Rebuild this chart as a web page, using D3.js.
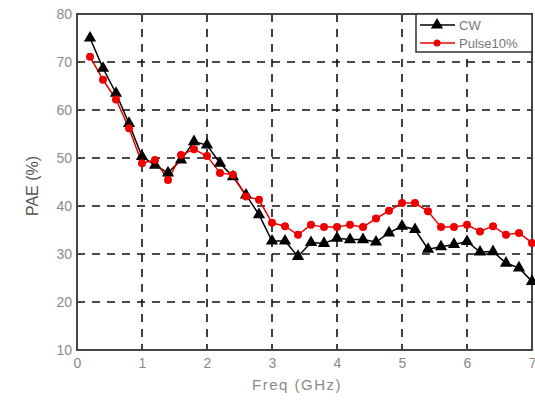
<!DOCTYPE html>
<html><head><meta charset="utf-8">
<script src="https://cdn.jsdelivr.net/npm/d3@7"></script>
<style>body{margin:0;background:#fff}svg{display:block}</style>
</head><body>
<svg id="c" width="535" height="403"></svg>
<script>
const freq = [0.2,0.4,0.6,0.8,1.0,1.2,1.4,1.6,1.8,2.0,2.2,2.4,2.6,2.8,3.0,3.2,3.4,3.6,3.8,4.0,4.2,4.4,4.6,4.8,5.0,5.2,5.4,5.6,5.8,6.0,6.2,6.4,6.6,6.8,7.0];
const cw = [75,68.7,63.5,57.2,50.3, 48.5,46.9,49.6,53.4,52.7, 48.9,46.1,42.3,38.2,32.7, 32.7,29.5,32.4,32.2,33.3, 33,33,32.5,34.4,35.8, 35.1,31,31.5,32,32.6, 30.4,30.5,28.1,27.1,24.3];
const pulse = [71.1,66.3,62.2,56.2,48.9, 49.6,45.4,50.6,51.8,50.4, 46.9,46.5,42,41.3,36.5, 35.8,34,36.1,35.6,35.6, 36.1,35.6,37.4,39,40.6, 40.6,38.9,35.6,35.6,36.1, 34.7,35.8,34,34.4,32.3];
const xTicks = [0,1,2,3,4,5,6,7];
const yTicks = [10,20,30,40,50,60,70,80];
const seriesNames = ["CW","Pulse10%"];

const svg = d3.select("#c");
const L=77, R=532, T=14, B=350;
const x = d3.scaleLinear().domain([0,7]).range([L,R]);
const y = d3.scaleLinear().domain([10,80]).range([B,T]);
const font = "Liberation Sans, Arial, sans-serif";

// grid
const g = svg.append("g");
g.selectAll(".vg").data(xTicks.slice(1,-1)).join("line")
  .attr("x1",d=>x(d)).attr("x2",d=>x(d)).attr("y1",T).attr("y2",B)
  .attr("stroke","#111").attr("stroke-width",1.6).attr("stroke-dasharray","8,7");
g.selectAll(".hg").data(yTicks.slice(1,-1)).join("line")
  .attr("x1",L).attr("x2",R).attr("y1",d=>y(d)).attr("y2",d=>y(d))
  .attr("stroke","#111").attr("stroke-width",1.6).attr("stroke-dasharray","8,7");

// axes
const xa = svg.append("g").attr("transform",`translate(0,${B})`)
  .call(d3.axisBottom(x).tickValues(xTicks).tickFormat(d3.format("d")).tickSize(0).tickPadding(6));
const ya = svg.append("g").attr("transform",`translate(${L},0)`)
  .call(d3.axisLeft(y).tickValues(yTicks).tickFormat(d3.format("d")).tickSize(0).tickPadding(5));
[xa,ya].forEach(a=>{
  a.select(".domain").remove();
  a.selectAll("text").attr("fill","#8a8a8a").style("font-family",font).style("font-size","14px");
});
xa.selectAll("text").attr("dy","0.85em");
xa.selectAll(".tick").filter(d=>d===7).select("text").attr("text-anchor","end").attr("dx","4");

// frame
svg.append("rect").attr("x",L).attr("y",T).attr("width",R-L).attr("height",B-T)
  .attr("fill","none").attr("stroke","#444").attr("stroke-width",2);

// lines
const line = d3.line().x((d,i)=>x(freq[i])).y(d=>y(d));
svg.append("path").datum(cw).attr("d",line).attr("fill","none").attr("stroke","#000").attr("stroke-width",1.5);
svg.append("path").datum(pulse).attr("d",line).attr("fill","none").attr("stroke","#e00").attr("stroke-width",1.5);
const tri = d3.symbol().type(d3.symbolTriangle).size(65);
svg.selectAll(".cwm").data(cw).join("path")
  .attr("transform",(d,i)=>`translate(${x(freq[i])},${y(d)})`).attr("d",tri()).attr("fill","#000");
svg.selectAll(".pm").data(pulse).join("circle")
  .attr("cx",(d,i)=>x(freq[i])).attr("cy",d=>y(d)).attr("r",4).attr("fill","#e00");

// labels
svg.append("text").attr("x",297).attr("y",390).attr("text-anchor","middle")
  .attr("fill","#8a8a8a").style("font-family",font).style("font-size","15px")
  .style("letter-spacing","1.5px").text("Freq (GHz)");
svg.append("text").attr("transform","translate(38,186) rotate(-90)").attr("text-anchor","middle")
  .attr("fill","#555").style("font-family",font).style("font-size","16px")
  .text("PAE (%)");

// legend
const lg = svg.append("g");
lg.append("rect").attr("x",416).attr("y",T).attr("width",R-416).attr("height",38)
  .attr("fill","#fff").attr("stroke","#333").attr("stroke-width",1.5);
const cols = ["#000","#e00"];
seriesNames.forEach((nm,i)=>{
  const yy = T+11+i*18;
  lg.append("line").attr("x1",420).attr("x2",455).attr("y1",yy).attr("y2",yy).attr("stroke",cols[i]).attr("stroke-width",1.5);
  if(i===0) lg.append("path").attr("transform",`translate(437,${yy})`).attr("d",tri()).attr("fill","#000");
  else lg.append("circle").attr("cx",437).attr("cy",yy).attr("r",3.5).attr("fill","#e00");
  lg.append("text").attr("x",459).attr("y",yy+4.5).attr("fill","#777")
    .style("font-family",font).style("font-size","13px").text(nm);
});
</script>
</body></html>
